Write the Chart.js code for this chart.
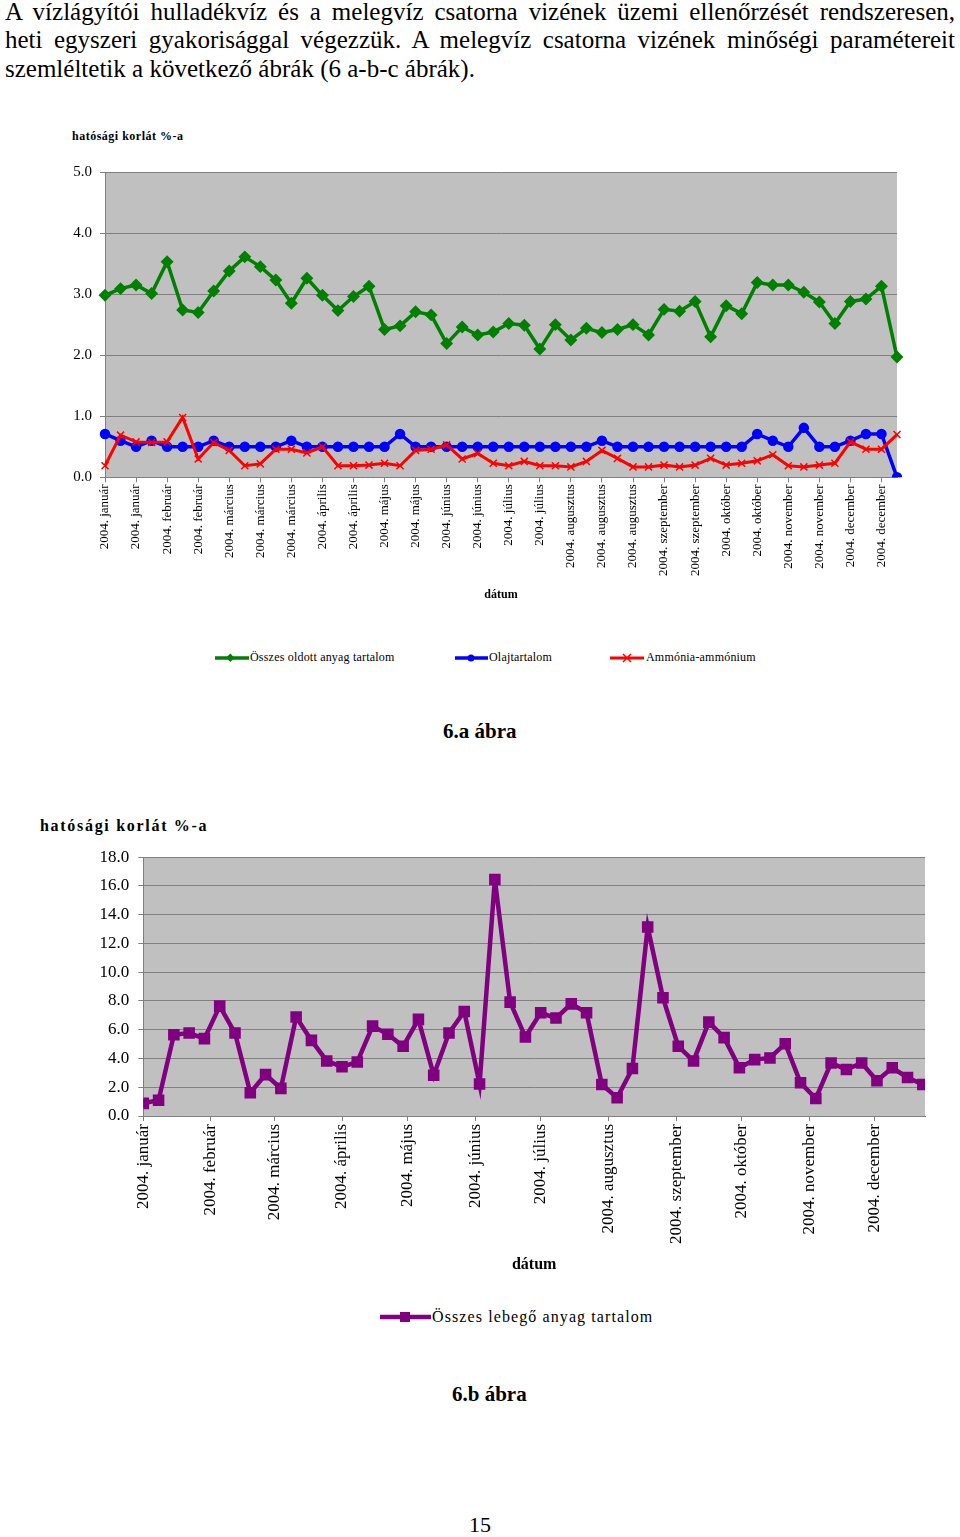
<!DOCTYPE html>
<html lang="hu">
<head>
<meta charset="utf-8">
<script src="https://cdn.jsdelivr.net/npm/chart.js"></script>
<style>
  body { margin: 0; background: #fff; font-family: 'Liberation Serif', 'Times New Roman', serif; color: #000; }
  #page { position: relative; width: 960px; height: 1537px; overflow: hidden; }
  .abs { position: absolute; white-space: nowrap; }
  .sor { position: absolute; left: 5px; width: 950px; font-size: 25px; line-height: 28px; white-space: nowrap; }
  .sor.just { text-align: justify; text-align-last: justify; }
  .cim1 { font-size: 12px; font-weight: bold; letter-spacing: 0.5px; }
  .cim2 { font-size: 16px; font-weight: bold; letter-spacing: 1.7px; }
  .abra { font-size: 21px; font-weight: bold; }
  .leg { position: absolute; display: flex; align-items: center; white-space: nowrap; }
  .leg svg { display: block; }
</style>
</head>
<body>
<div id="page">
  <div class="sor just" style="top:-2px">A vízlágyítói hulladékvíz és a melegvíz csatorna vizének üzemi ellenőrzését rendszeresen,</div>
  <div class="sor just" style="top:26px">heti egyszeri gyakorisággal végezzük. A melegvíz csatorna vizének minőségi paramétereit</div>
  <div class="sor" style="top:55px">szemléltetik a következő ábrák (6 a-b-c ábrák).</div>

  <div class="abs cim1" style="left:72px; top:129px">hatósági korlát %-a</div>
  <canvas id="abra6a" class="abs" width="960" height="447" style="left:0; top:155px"></canvas>

  <div class="leg" style="left:215px; top:650px; font-size:12px; letter-spacing:0.2px">
    <svg width="34" height="12"><line x1="0" y1="6" x2="34" y2="6" stroke="#008000" stroke-width="3.5"/><rect x="13" y="2" width="6" height="6" transform="rotate(45 16 5) translate(0 1)" fill="#008000"/></svg>
    <span style="margin-left:1px">Összes oldott anyag tartalom</span>
  </div>
  <div class="leg" style="left:455px; top:650px; font-size:12px; letter-spacing:0.2px">
    <svg width="33" height="12"><line x1="0" y1="6" x2="33" y2="6" stroke="#0000ff" stroke-width="3.5"/><circle cx="16" cy="6" r="3.5" fill="#0000ff"/></svg>
    <span style="margin-left:1px">Olajtartalom</span>
  </div>
  <div class="leg" style="left:610px; top:650px; font-size:12px; letter-spacing:0.2px">
    <svg width="34" height="12"><line x1="0" y1="6" x2="34" y2="6" stroke="#ff0000" stroke-width="3"/><path d="M13 2 L21 10 M21 2 L13 10" stroke="#ff0000" stroke-width="1.5"/></svg>
    <span style="margin-left:2px">Ammónia-ammónium</span>
  </div>
  <div class="abs abra" style="left:443px; top:719px">6.a ábra</div>

  <div class="abs cim2" style="left:40px; top:817px">hatósági korlát %-a</div>
  <canvas id="abra6b" class="abs" width="960" height="436" style="left:0; top:838px"></canvas>

  <div class="leg" style="left:380px; top:1307px; font-size:16px; letter-spacing:1.1px">
    <svg width="51" height="20"><line x1="0" y1="10" x2="51" y2="10" stroke="#800080" stroke-width="4.5"/><rect x="20" y="5" width="10" height="10" fill="#800080"/></svg>
    <span style="margin-left:1px">Összes lebegő anyag tartalom</span>
  </div>
  <div class="abs abra" style="left:452px; top:1382px">6.b ábra</div>

  <div class="abs" style="left:469px; top:1512px; font-size:22px">15</div>
</div>

<script>
const honapok = ['január', 'február', 'március', 'április', 'május', 'június',
  'július', 'augusztus', 'szeptember', 'október', 'november', 'december'];

// heti mintavétel, 2004. január 5-től
const mintaNapok = [];
for (let i = 0; i < 52; i++) mintaNapok.push(new Date(2004, 0, 5 + 7 * i));

const osszesOldott = [2.98, 3.09, 3.15, 3.01, 3.53, 2.74, 2.70, 3.05, 3.38, 3.61, 3.45, 3.23, 2.85,
  3.26, 2.98, 2.73, 2.96, 3.13, 2.42, 2.48, 2.71, 2.66, 2.19, 2.46, 2.33, 2.38,
  2.52, 2.49, 2.10, 2.50, 2.25, 2.44, 2.37, 2.42, 2.50, 2.33, 2.75, 2.72, 2.88,
  2.30, 2.81, 2.68, 3.19, 3.15, 3.15, 3.03, 2.87, 2.52, 2.88, 2.92, 3.13, 1.97];

const olajtartalom = [0.71, 0.6, 0.5, 0.6, 0.5, 0.5, 0.5, 0.6, 0.5, 0.5, 0.5, 0.5, 0.6,
  0.5, 0.5, 0.5, 0.5, 0.5, 0.5, 0.71, 0.5, 0.5, 0.5, 0.5, 0.5, 0.5,
  0.5, 0.5, 0.5, 0.5, 0.5, 0.5, 0.6, 0.5, 0.5, 0.5, 0.5, 0.5, 0.5,
  0.5, 0.5, 0.5, 0.71, 0.6, 0.5, 0.81, 0.5, 0.5, 0.6, 0.71, 0.71, 0.0];

const ammonia = [0.19, 0.69, 0.58, 0.57, 0.58, 0.98, 0.30, 0.57, 0.44, 0.19, 0.22, 0.46, 0.46,
  0.40, 0.50, 0.19, 0.19, 0.20, 0.23, 0.19, 0.44, 0.46, 0.53, 0.30, 0.39, 0.23,
  0.19, 0.26, 0.19, 0.19, 0.17, 0.26, 0.44, 0.31, 0.17, 0.17, 0.20, 0.17, 0.20,
  0.31, 0.20, 0.23, 0.27, 0.37, 0.19, 0.17, 0.20, 0.23, 0.58, 0.46, 0.46, 0.70];

const lebego = [0.88, 1.1, 5.65, 5.77, 5.38, 7.64, 5.77, 1.62, 2.88, 1.92, 6.88, 5.26, 3.83,
  3.42, 3.76, 6.25, 5.68, 4.85, 6.72, 2.84, 5.77, 7.27, 2.22, 16.45, 7.92, 5.49,
  7.18, 6.81, 7.80, 7.18, 2.19, 1.27, 3.30, 13.15, 8.22, 4.85, 3.83, 6.53, 5.45,
  3.35, 3.92, 4.04, 5.03, 2.31, 1.22, 3.69, 3.23, 3.69, 2.45, 3.35, 2.68, 2.19];

const hetiCimkek = mintaNapok.map(d => '2004. ' + honapok[d.getMonth()]);
const napSzam = d => Math.round((d - mintaNapok[0]) / 864e5);
const honapTickek = honapok.map((m, i) => napSzam(new Date(2004, i, 5)));

Chart.defaults.font.family = "'Liberation Serif', 'Times New Roman', serif";
Chart.defaults.color = '#000';

const hatter = {
  id: 'hatter',
  beforeDraw(chart) {
    const { ctx, chartArea: a } = chart;
    ctx.save();
    ctx.fillStyle = '#c0c0c0';
    ctx.fillRect(a.left, a.top, a.right - a.left, a.bottom - a.top);
    ctx.restore();
  }
};

// 6.a ábra
new Chart(document.getElementById('abra6a'), {
  type: 'line',
  data: {
    labels: hetiCimkek,
    datasets: [
      { label: 'Összes oldott anyag tartalom', data: osszesOldott, borderColor: '#008000', backgroundColor: '#008000',
        borderWidth: 3.5, pointStyle: 'rectRot', pointRadius: 4, order: 2 },
      { label: 'Olajtartalom', data: olajtartalom, borderColor: '#0000ff', backgroundColor: '#0000ff',
        borderWidth: 3.5, pointStyle: 'circle', pointRadius: 3.5, order: 1 },
      { label: 'Ammónia-ammónium', data: ammonia, borderColor: '#ff0000', backgroundColor: '#ff0000',
        borderWidth: 3, pointStyle: 'crossRot', pointRadius: 5, pointBorderWidth: 1.5, order: 0 }
    ]
  },
  options: {
    responsive: false, animation: false, devicePixelRatio: 1,
    layout: { padding: { top: 11.7, right: 63, bottom: 0, left: 0 } },
    plugins: { legend: { display: false }, tooltip: { enabled: false } },
    elements: { line: { tension: 0 } },
    scales: {
      x: {
        offset: false,
        grid: { drawOnChartArea: false, color: '#808080', tickLength: 5 },
        border: { color: '#808080' },
        ticks: { autoSkip: false, minRotation: 90, maxRotation: 90, padding: 2, font: { size: 13 } },
        afterBuildTicks: s => { s.ticks = s.ticks.filter(t => t.value % 2 === 0); },
        afterFit: s => { s.height = 124.7; },
        title: { display: true, text: 'dátum', font: { size: 12, weight: 'bold' }, padding: 0 }
      },
      y: {
        min: 0, max: 5,
        ticks: { stepSize: 1, callback: v => v.toFixed(1), padding: 8, font: { size: 15 } },
        grid: { color: '#808080', tickLength: 5 },
        border: { color: '#808080' },
        afterFit: s => { s.width = 105; }
      }
    }
  },
  plugins: [hatter]
});

// 6.b ábra
new Chart(document.getElementById('abra6b'), {
  type: 'line',
  data: {
    datasets: [
      { label: 'Összes lebegő anyag tartalom', data: lebego.map((v, i) => ({ x: napSzam(mintaNapok[i]), y: v })),
        borderColor: '#800080', backgroundColor: '#800080', borderWidth: 4.5,
        pointStyle: 'rect', pointRadius: 5 }
    ]
  },
  options: {
    responsive: false, animation: false, devicePixelRatio: 1,
    layout: { padding: { top: 16, right: 35, bottom: 0, left: 0 } },
    plugins: { legend: { display: false }, tooltip: { enabled: false } },
    elements: { line: { tension: 0 } },
    scales: {
      x: {
        type: 'linear', min: 0, max: napSzam(mintaNapok[51]) + 1,
        grid: { drawOnChartArea: false, color: '#808080', tickLength: 5 },
        border: { color: '#808080' },
        afterBuildTicks: s => { s.ticks = honapTickek.map(v => ({ value: v })); },
        ticks: { autoSkip: false, minRotation: 90, maxRotation: 90, padding: 3, font: { size: 17 },
          callback: (v, i) => '2004. ' + honapok[i] },
        afterFit: s => { s.height = 158; },
        title: { display: true, text: 'dátum', font: { size: 16, weight: 'bold' }, padding: 0 }
      },
      y: {
        min: 0, max: 18,
        ticks: { stepSize: 2, callback: v => v.toFixed(1), padding: 9, font: { size: 17 } },
        grid: { color: '#808080', tickLength: 5 },
        border: { color: '#808080' },
        afterFit: s => { s.width = 143.3; }
      }
    }
  },
  plugins: [hatter]
});
</script>
</body>
</html>
